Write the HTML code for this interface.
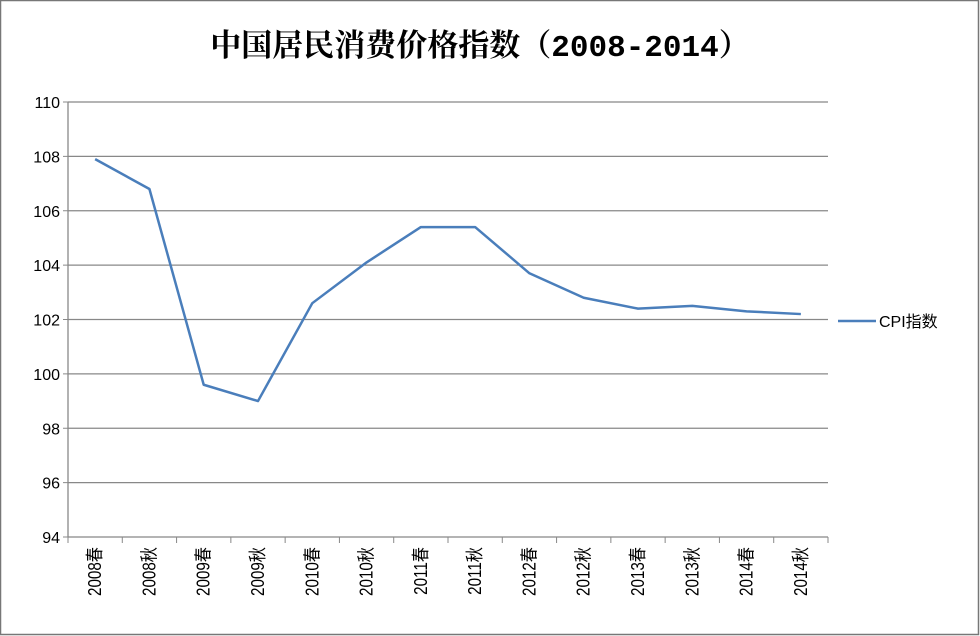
<!DOCTYPE html>
<html><head><meta charset="utf-8"><style>
html,body{margin:0;padding:0;background:#fff}
svg{display:block}
text{font-family:"Liberation Sans","Noto Sans CJK SC",sans-serif;fill:#000}
</style></head><body>
<svg id="c" width="980" height="636" xmlns="http://www.w3.org/2000/svg">
<rect x="0.5" y="0.5" width="978" height="634" fill="#fff" stroke="#777" stroke-width="1.5"/>
<text x="480" y="56" text-anchor="middle" style="font-family:'Liberation Mono','Noto Serif CJK SC',serif;font-size:31px;font-weight:bold">中国居民消费价格指数（2008-2014）</text>
<g id="grid"></g><g id="axes"></g><g id="series"></g>
<line x1="838" y1="321" x2="876" y2="321" stroke="#4a7ebb" stroke-width="2.5"/>
<text x="879" y="327" font-size="16">CPI指数</text>
</svg>
<script>
const categories=["2008春","2008秋","2009春","2009秋","2010春","2010秋","2011春","2011秋","2012春","2012秋","2013春","2013秋","2014春","2014秋"];
const cpiValues=[107.9,106.8,99.6,99.0,102.6,104.1,105.4,105.4,103.7,102.8,102.4,102.5,102.3,102.2];
const yTicks=[94,96,98,100,102,104,106,108,110];
const NS="http://www.w3.org/2000/svg";
const L=68,R=828,T=102,B=537,yMin=94,yMax=110;
const bw=(R-L)/categories.length;
const xPos=i=>L+bw*(i+0.5);
const yPos=v=>B-(v-yMin)/(yMax-yMin)*(B-T);
function mk(tag,attrs,parent){const e=document.createElementNS(NS,tag);for(const k in attrs)e.setAttribute(k,attrs[k]);document.getElementById(parent).appendChild(e);return e;}
yTicks.forEach(t=>{
  const y=yPos(t);
  const g=mk("line",{x1:L,y1:y,x2:R,y2:y,stroke:"#888","stroke-width":1.3},"grid");
  
  
  const tk=mk("line",{x1:L-5,y1:y,x2:L,y2:y,stroke:"#888"},"axes");
  
  
  const tx=mk("text",{x:L-8,y:y+6,"font-size":16,"text-anchor":"end"},"axes");
  tx.textContent=t;
  
  
});
const ya=mk("line",{x1:L,y1:T,x2:L,y2:B,stroke:"#888","stroke-width":1.3},"axes");


for(let i=0;i<=categories.length;i++){
  const x=L+bw*i;
  const tk=mk("line",{x1:x,y1:B,x2:x,y2:B+6,stroke:"#888"},"axes");
  
  
}
categories.forEach((c,i)=>{
  const x=xPos(i);
  const tx=mk("text",{x:0,y:0,"font-size":16,"text-anchor":"end",transform:`translate(${x+6},${B+10}) rotate(-90) scale(0.95,1.15)`},"axes");
  tx.textContent=c;
  
  
});
const pts=cpiValues.map((v,i)=>xPos(i)+","+yPos(v)).join(" ");
const pl=mk("polyline",{points:pts,fill:"none",stroke:"#4a7ebb","stroke-width":2.5,"stroke-linejoin":"round"},"series");


</script>
</body></html>
